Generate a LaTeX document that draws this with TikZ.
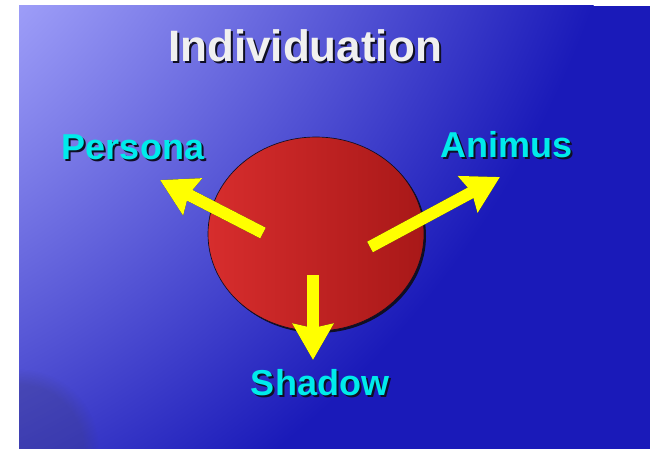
\documentclass[tikz,border=0pt]{standalone}
\usepackage{fontspec}
\setmainfont{Liberation Sans}
\usetikzlibrary{arrows.meta,fadings}
\definecolor{bgdark}{RGB}{26,26,185}
\definecolor{bglight}{RGB}{162,162,250}
\definecolor{bgcorner}{RGB}{60,60,130}
\definecolor{cyanlbl}{RGB}{0,235,235}
\definecolor{titlec}{RGB}{240,240,240}
\definecolor{arrowyel}{RGB}{255,255,0}
\definecolor{sphl}{RGB}{215,45,45}
\definecolor{sphd}{RGB}{168,24,24}
\definecolor{shadowc}{RGB}{15,15,35}
\pgfdeclareradialshading{bgshade}{\pgfpoint{0bp}{0bp}}{color(0bp)=(bglight); color(12bp)=(bglight); color(25bp)=(bgdark); color(50bp)=(bgdark)}
\begin{document}
\begin{tikzpicture}[x=0.75pt,y=-0.75pt,
  lblfont/.style={font=\fontsize{27}{30}\selectfont\bfseries, inner sep=0pt},
  lbl/.style={lblfont, text=cyanlbl},
  lblsh/.style={lblfont, text=shadowc},
  ttlfont/.style={font=\fontsize{33}{36}\selectfont\bfseries, inner sep=0pt},
  headtip/.style={-{Stealth[width=30pt,length=27pt,inset=3pt]}},
  yarrow/.style={line width=9pt, draw=arrowyel, headtip},
  sharrow/.style={line width=9pt, draw=shadowc, headtip},
  shoff/.style={shift={(2,2)}}]
\useasboundingbox (0,0) rectangle (650,449);
\fill[white] (0,0) rectangle (650,449);
% slide background
\begin{scope}
  \clip (19,6) rectangle (650,449);
  \fill[bgdark] (19,6) rectangle (650,449);
  \shade[shading=bgshade] (-348,-332) circle (1000);
  \fill[bgcorner, opacity=0.35, path fading=circle with fuzzy edge 20 percent] (19,449) circle (80);
\end{scope}
% title
\node[ttlfont, text=shadowc] (titlesh) at (307,48) {Individuation};
\node[ttlfont, text=titlec] (title) at (305,46) {Individuation};
% sphere
\coordinate (c) at (316,234);
\fill[shadowc] ([shift={(2,2)}]c) ellipse (108 and 97);
\shade[left color=sphl, right color=sphd] (c) ellipse (108 and 97);
\draw[shadowc, line width=0.5pt] (c) ellipse (108 and 97);
% arrow coordinates
\coordinate (pt) at (263,233);
\coordinate (ph) at (160,180);
\coordinate (at) at (370,247);
\coordinate (ah) at (500,177);
\coordinate (st) at (313,275);
\coordinate (sh) at (313,360);
% arrow shadows
\begin{scope}[shoff]
  \draw[sharrow] (pt) -- (ph);
  \draw[sharrow] (at) -- (ah);
  \draw[sharrow] (st) -- (sh);
\end{scope}
\draw[yarrow] (pt) -- (ph);
\draw[yarrow] (at) -- (ah);
\draw[yarrow] (st) -- (sh);
% labels
\node[lblsh] (personash) at (135,149) {Persona};
\node[lbl] (persona) at (133,147) {Persona};
\node[lblsh] (animussh) at (509,147) {Animus};
\node[lbl] (animus) at (507,145) {Animus};
\node[lblsh] (shadowsh) at (322,385) {Shadow};
\node[lbl] (shadow) at (320,383) {Shadow};
\end{tikzpicture}
\end{document}
